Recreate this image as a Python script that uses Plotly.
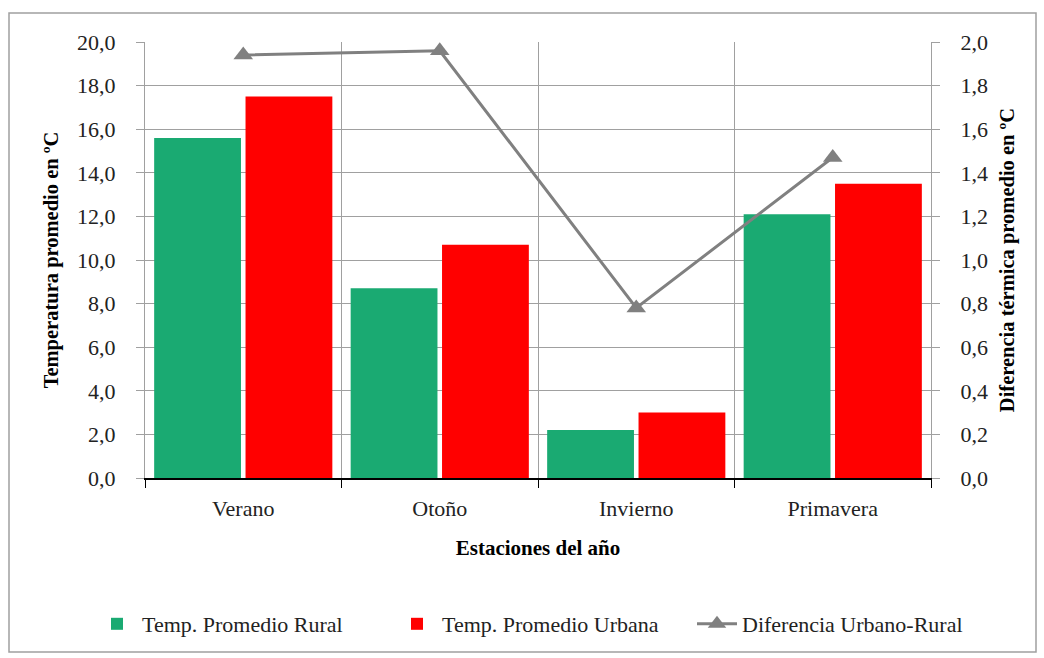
import plotly.graph_objects as go

estaciones = ["Verano", "Otoño", "Invierno", "Primavera"]
rural = [15.6, 8.7, 2.2, 12.1]
urbana = [17.5, 10.7, 3.0, 13.5]
diferencia = [1.94, 1.96, 0.78, 1.47]

FONT = "Liberation Serif"
TXT = "#222222"

fig = go.Figure()
fig.add_trace(go.Bar(x=estaciones, y=rural, name="Temp. Promedio Rural",
                     marker=dict(color="#1aaa72", line=dict(width=0))))
fig.add_trace(go.Bar(x=estaciones, y=urbana, name="Temp. Promedio Urbana",
                     marker=dict(color="#ff0000", line=dict(width=0))))
fig.add_trace(go.Scatter(x=estaciones, y=diferencia, name="Diferencia Urbano-Rural",
                         yaxis="y2", mode="lines+markers",
                         line=dict(color="#808080", width=3),
                         marker=dict(symbol="triangle-up", size=17, color="#808080")))

W, H = 1044, 658
L, R, T, B = 145, 113, 42, 180
pw, ph = W - L - R, H - T - B

def px2paper_x(x):
    return (x - L) / pw

def px2paper_y(y):
    return (H - B - y) / ph

fig.update_layout(
    width=W, height=H,
    margin=dict(l=L, r=R, t=T, b=B, pad=0, autoexpand=False),
    paper_bgcolor="white", plot_bgcolor="white",
    separators=",.",
    font=dict(family=FONT, size=22, color=TXT),
    barmode="group", bargap=0.07, bargroupgap=0.05,
    showlegend=True,
    legend=dict(orientation="h", x=px2paper_x(92), xanchor="left",
                y=px2paper_y(624), yanchor="middle",
                entrywidth=245, entrywidthmode="pixels",
                bgcolor="rgba(0,0,0,0)",
                font=dict(family=FONT, size=22, color=TXT),
                traceorder="normal", itemwidth=40),
    xaxis=dict(
        type="category", tickson="boundaries",
        showgrid=True, gridcolor="#a0a0a0", gridwidth=1,
        showline=True, linecolor="#000000", linewidth=1.5,
        ticks="outside", ticklen=8, tickcolor="#000000",
        ticklabelstandoff=10,
        tickfont=dict(family=FONT, size=22, color=TXT),
        title=dict(text="<b>Estaciones del año</b>", standoff=20,
                   font=dict(family=FONT, size=21, color="#000000")),
    ),
    yaxis=dict(
        range=[0, 20], dtick=2, tickformat=".1f",
        showgrid=True, gridcolor="#a0a0a0", gridwidth=1,
        showline=True, linecolor="#a0a0a0", linewidth=1,
        ticks="outside", ticklen=8, tickcolor="#a0a0a0",
        ticklabelstandoff=16,
        zeroline=False,
        tickfont=dict(family=FONT, size=22, color=TXT),
        title=dict(text="<b>Temperatura promedio en ºC</b>", standoff=12,
                   font=dict(family=FONT, size=20.5, color="#000000")),
    ),
    yaxis2=dict(
        range=[0, 2], dtick=0.2, tickformat=".1f",
        overlaying="y", side="right", showgrid=False,
        showline=True, linecolor="#a0a0a0", linewidth=1,
        ticks="outside", ticklen=8, tickcolor="#a0a0a0",
        ticklabelstandoff=16,
        zeroline=False,
        tickfont=dict(family=FONT, size=22, color=TXT),
        title=dict(text="<b>Diferencia térmica promedio en ºC</b>", standoff=12,
                   font=dict(family=FONT, size=20.5, color="#000000")),
    ),
    shapes=[dict(type="rect", xref="paper", yref="paper",
                 x0=px2paper_x(9), x1=px2paper_x(1036),
                 y0=px2paper_y(652), y1=px2paper_y(13),
                 line=dict(color="#a0a0a0", width=1.5), layer="below")],
)

fig.write_html("out.html", config={"displayModeBar": False},
               post_script="document.body.style.margin='0';")
